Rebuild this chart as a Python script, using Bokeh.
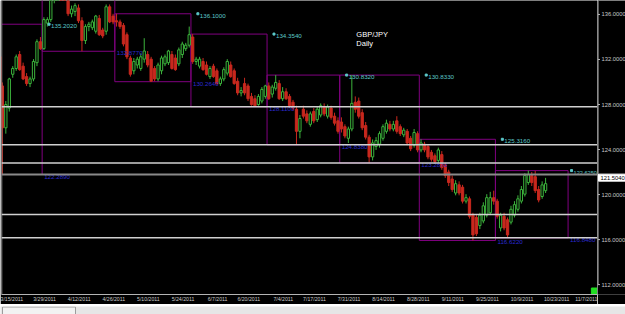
from bokeh.plotting import figure
from bokeh.models import (Range1d, LinearAxis, FixedTicker, ColumnDataSource, Span)
from bokeh.layouts import column, row
from bokeh.embed import file_html
from bokeh.resources import INLINE
from bokeh.core.properties import value

# ---------------- data (GBP/JPY daily) ----------------
bar_start = -10  # index of the first visible bar; bar 0 = 3/29/2011

opens = [132.4, 129.9, 126.3, 128.0, 130.9, 131.4, 132.6, 131.6, 130.7, 130.1,
         130.5, 131.9, 133.7, 133.1, 135.3, 135.6, 137.4, 138.6, 139.2, 138.6,
         137.6, 136.1, 136.3, 136.6, 135.5, 133.8, 135.0, 134.9, 134.6, 135.7,
         134.7, 134.6, 136.7, 135.9, 135.5, 135.4, 135.1, 134.3, 132.3, 131.2,
         131.7, 131.4, 132.2, 132.6, 132.2, 131.4, 130.5, 131.2, 131.8, 131.9,
         132.6, 132.3, 131.8, 132.6, 133.1, 133.4, 134.1, 132.0, 131.6, 132.0,
         131.7, 130.7, 131.6, 131.2, 130.1, 130.5, 131.0, 131.7, 131.2, 130.3,
         129.3, 130.1, 129.9, 129.0, 128.8, 128.3, 128.6, 129.0, 129.9, 129.2,
         129.7, 130.1, 128.8, 129.4, 129.0, 128.5, 127.9, 126.0, 127.9, 127.5,
         126.6, 127.7, 127.0, 127.4, 128.1, 127.3, 128.0, 127.3, 126.9, 126.8,
         126.4, 125.4, 126.2, 128.5, 128.6, 127.6, 126.5, 125.5, 123.8, 124.7,
         124.9, 125.4, 126.0, 126.6, 126.2, 126.9, 126.4, 125.7, 126.0, 125.4,
         124.8, 125.8, 124.4, 124.9, 124.7, 124.2, 123.9, 123.5, 124.0, 123.1,
         122.5, 121.9, 120.7, 121.4, 121.2, 120.0, 120.2, 118.8, 118.6, 117.9,
         118.3, 118.8, 119.0, 120.3, 120.0, 117.7, 118.7, 118.4, 118.2, 118.8,
         119.3, 120.0, 120.6, 121.6, 122.2, 122.1, 121.0, 120.4, 120.9]

highs = [132.7, 130.2, 128.6, 130.6, 131.6, 132.6, 132.9, 131.9, 131.0, 130.7,
         132.2, 133.9, 134.1, 135.8, 135.8, 137.6, 138.9, 139.6, 139.8, 138.9,
         137.9, 136.8, 137.0, 136.9, 135.8, 135.2, 135.4, 135.6, 136.0, 136.0,
         134.9, 136.9, 136.9, 136.1, 136.1, 135.6, 135.3, 134.5, 132.5, 132.3,
         132.4, 132.7, 134.0, 132.9, 132.4, 131.6, 131.9, 132.5, 132.6, 133.0,
         132.9, 132.6, 133.2, 133.7, 133.6, 135.0, 134.354, 132.4, 132.4, 132.3,
         132.0, 131.6, 131.8, 131.4, 130.7, 131.5, 132.2, 132.0, 131.4, 130.6,
         129.8, 130.6, 130.1, 129.3, 129.1, 129.2, 129.8, 130.0, 130.2, 130.0,
         130.832, 130.4, 129.8, 129.7, 129.2, 128.7, 128.2, 127.4, 128.2, 127.8,
         127.7, 128.0, 128.1, 128.4, 128.4, 128.3, 128.2, 127.6, 127.2, 127.2,
         126.6, 126.4, 130.833, 129.0, 128.9, 127.9, 126.8, 125.7, 125.3, 125.5,
         126.0, 126.6, 127.0, 126.9, 126.9, 127.3, 126.6, 126.3, 126.2, 125.6,
         126.2, 126.0, 125.316, 125.1, 124.9, 124.4, 124.1, 124.6, 124.3, 123.3,
         122.7, 122.2, 121.8, 121.7, 121.4, 120.6, 120.4, 119.0, 118.9, 119.0,
         119.9, 120.6, 120.8, 120.9, 120.2, 119.0, 119.0, 118.6, 119.6, 120.0,
         120.5, 121.3, 122.4, 122.625, 122.5, 122.6, 121.3, 121.7, 122.0]

lows = [128.4, 122.289, 125.8, 127.7, 130.6, 131.2, 131.2, 130.4, 129.9, 129.8,
        130.3, 131.6, 133.0, 133.0, 135.0, 135.4, 137.0, 138.1, 138.3, 137.2,
        135.9, 135.8, 135.9, 135.3, 132.877, 133.5, 134.6, 134.7, 134.4, 134.2,
        134.0, 134.3, 135.3, 135.2, 135.0, 134.8, 133.3, 132.2, 130.7, 130.9,
        131.4, 131.2, 131.9, 131.5, 130.264, 130.3, 130.3, 130.9, 131.6, 131.7,
        131.3, 131.2, 131.6, 132.3, 132.9, 133.2, 131.8, 131.7, 131.4, 131.2,
        130.8, 130.5, 130.6, 130.0, 129.9, 130.3, 130.8, 130.6, 130.0, 129.1,
        129.0, 129.1, 128.6, 128.2, 128.11, 128.2, 128.4, 128.8, 128.7, 128.9,
        129.5, 128.7, 128.6, 128.7, 128.0, 127.8, 124.838, 125.4, 127.1, 126.7,
        126.4, 126.7, 126.8, 127.2, 127.3, 127.1, 127.0, 126.5, 125.8, 125.9,
        125.4, 125.0, 126.0, 127.6, 127.1, 126.1, 125.3, 123.287, 123.5, 124.4,
        124.6, 125.2, 125.8, 126.0, 126.0, 125.8, 125.6, 125.5, 124.8, 124.3,
        124.6, 124.2, 124.2, 124.2, 123.6, 123.4, 123.2, 123.3, 122.7, 122.0,
        121.3, 120.8, 120.5, 120.5, 119.8, 119.8, 118.5, 116.622, 117.0, 117.6,
        118.1, 118.6, 118.8, 119.7, 118.5, 117.4, 117.5, 116.848, 118.0, 118.6,
        119.1, 119.8, 120.4, 121.4, 121.3, 120.7, 119.9, 120.2, 120.7]

closes = [128.9, 126.3, 128.3, 130.5, 131.4, 132.4, 131.3, 130.5, 130.1, 130.5,
          132.0, 133.7, 133.1, 135.6, 135.6, 137.4, 138.6, 139.2, 138.6, 137.5,
          136.1, 136.5, 136.8, 135.5, 133.8, 135.0, 135.2, 135.4, 135.9, 134.3,
          134.2, 136.7, 135.4, 135.4, 135.4, 135.0, 133.5, 132.4, 130.9, 132.0,
          132.2, 132.4, 132.9, 131.7, 130.3, 130.5, 131.7, 132.3, 132.4, 132.9,
          131.4, 131.3, 133.0, 133.5, 133.4, 134.3, 132.0, 132.2, 132.2, 131.3,
          130.9, 131.4, 130.7, 130.1, 130.5, 131.3, 132.0, 130.7, 130.1, 129.3,
          129.5, 129.3, 128.8, 128.3, 128.2, 129.0, 129.6, 129.9, 128.8, 129.8,
          130.2, 128.8, 129.4, 128.8, 128.2, 128.0, 126.0, 127.1, 127.3, 126.9,
          127.5, 126.9, 127.9, 128.2, 127.5, 128.1, 127.2, 126.7, 126.0, 126.2,
          125.6, 126.2, 128.4, 127.9, 127.3, 126.3, 125.5, 123.8, 125.0, 125.2,
          125.8, 126.4, 126.7, 126.2, 126.6, 126.0, 125.8, 126.1, 125.0, 124.5,
          125.9, 124.4, 125.0, 124.4, 123.8, 123.6, 123.4, 124.4, 122.9, 122.2,
          121.6, 121.0, 121.5, 120.7, 120.0, 120.3, 118.7, 117.1, 117.2, 118.8,
          119.6, 120.3, 120.3, 120.0, 118.7, 118.8, 117.7, 117.1, 119.3, 119.7,
          120.2, 121.0, 122.2, 122.3, 121.6, 120.9, 120.1, 121.4, 121.504]

# monthly range boxes (Mar .. Oct 2011): first / last bar index, high, low
month_first = [-23, 3, 24, 46, 68, 89, 112, 134]
month_last = [2, 23, 45, 67, 88, 111, 133, 154]
month_high = [135.202, 139.8, 136.100, 134.354, 130.832, 130.833, 125.316, 122.625]
month_low = [122.289, 132.877, 130.264, 128.110, 124.838, 123.287, 116.622, 116.848]
high_text = ["135.2020", "139.8000", "136.1000", "134.3540", "130.8320",
             "130.8330", "125.3160", "122.6250"]
low_text = ["122.2890", "132.8770", "130.2640", "128.1100", "124.8380",
            "123.2870", "116.6220", "116.8480"]

level_lines = [128.110, 124.838, 123.287, 118.850, 116.848]
grey_level = 122.289

price_ticks = [112, 116, 120, 124, 128, 132, 136]
date_pos = [-10, 0, 10, 20, 30, 40, 50, 59, 69, 78, 88, 98, 108, 118, 128, 138, 148, 159]
date_text = ["3/15/2011", "3/29/2011", "4/12/2011", "4/26/2011", "5/10/2011",
             "5/24/2011", "6/7/2011", "6/20/2011", "7/4/2011", "7/17/2011",
             "7/31/2011", "8/14/2011", "8/28/2011", "9/11/2011", "9/25/2011",
             "10/9/2011", "10/23/2011", "11/7/2011"]
last_price = 121.504
title_lines = ["GBP/JPY", "Daily"]

# ---------------- styling ----------------
X0, X1 = -9.25, 163.0
Y0, Y1 = 111.98, 137.24
FRAME_H = 294
GREEN = "#3cb43c"
RED = "#c8281e"
PURPLE = "#800080"
CYAN = "#5cc8c8"
BLUE = "#2a2ad0"
AXIS = "#b4b4b4"
LABEL = "#c8c8c8"
FONT = "Liberation Sans"

p = figure(width=597, height=304, x_range=Range1d(X0, X1), y_range=Range1d(Y0, Y1),
           output_backend="svg", toolbar_location=None,
           x_axis_location=None, y_axis_location=None,
           background_fill_color="black", border_fill_color="black",
           min_border_left=1, min_border_right=0, min_border_top=0, min_border_bottom=10)
p.grid.visible = False
p.outline_line_color = None

# date axis: labels start at their bar (label centre shifted right)
p.extra_x_ranges = {"dates": Range1d(X0 - 3.2, X1 - 3.2)}
xa = LinearAxis(x_range_name="dates", ticker=FixedTicker(ticks=date_pos),
                major_label_overrides={d: t for d, t in zip(date_pos, date_text)},
                major_tick_line_color=None, major_tick_out=0, major_tick_in=0,
                minor_tick_line_color=None, axis_line_color=AXIS,
                major_label_text_font_size="5.2px", major_label_text_font=FONT,
                major_label_text_color=LABEL, major_label_standoff=1)
p.add_layout(xa, "below")

# left border
p.add_layout(Span(location=X0, dimension="height", line_color="#9a9a9a", line_width=1.5))

# monthly boxes
p.quad(left=[f - 0.5 for f in month_first], right=[l + 0.5 for l in month_last],
       top=month_high, bottom=month_low, fill_color=None, line_color=PURPLE, line_width=1)

# horizontal levels
for v in level_lines:
    p.add_layout(Span(location=v, dimension="width", line_color="#d0d0d0", line_width=1.5))
p.add_layout(Span(location=grey_level, dimension="width", line_color="#8a8a8a", line_width=2))

# candles
idx = list(range(bar_start, bar_start + len(opens)))
up = [c >= o for o, c in zip(opens, closes)]
src = ColumnDataSource(dict(
    x=idx, o=opens, h=highs, l=lows, c=closes,
    top=[max(o, c) for o, c in zip(opens, closes)],
    bot=[min(o, c) for o, c in zip(opens, closes)],
    col=[GREEN if u else RED for u in up],
    fill=["black" if u else RED for u in up],
))
p.segment(x0="x", y0="l", x1="x", y1="h", line_color="col", line_width=1, source=src)
p.vbar(x="x", width=0.66, top="top", bottom="bot", fill_color="fill",
       line_color="col", line_width=1, source=src)

# box labels for completed months (only those whose level is on the chart)
done = range(len(month_high) - 1)
vis_hi = [i for i in done if month_high[i] < Y1]
hx = [month_last[i] + 2.5 for i in vis_hi]
hy = [month_high[i] for i in vis_hi]
p.scatter(x=hx, y=hy, marker="square", size=2, color=CYAN)
p.text(x=hx, y=hy, text=[high_text[i] for i in vis_hi], x_offset=2, text_baseline="top",
       text_align="left", text_font=value(FONT), text_font_size="6.2px", text_color=CYAN)
# current month high label squeezed in before the price scale
cur = len(month_high) - 1
p.scatter(x=[month_last[cur] + 1.5], y=[month_high[cur]], marker="square", size=2, color=CYAN)
p.text(x=[month_last[cur] + 1.5], y=[month_high[cur]], text=[high_text[cur]], x_offset=2,
       text_baseline="top", text_align="left", text_font=value(FONT),
       text_font_size="5.6px", text_color=CYAN)
p.text(x=[l + 0.5 for l in month_last], y=month_low, text=low_text, x_offset=2,
       text_baseline="top", text_align="left", text_font=value(FONT),
       text_font_size="6.2px", text_color=BLUE)

# chart caption
p.text(x=[93.3, 93.3], y=[134.72, 133.95], text=title_lines, text_baseline="top",
       text_align="left", text_font=value(FONT), text_font_size="7.5px", text_color="white")

# terminal corner marker
p.scatter(x=[X1 - 0.9], y=[Y0 + 0.3], marker="square", size=6, color="#22dd22")

# ---------------- price scale strip (right) ----------------
unit_px = FRAME_H / (Y1 - Y0)
side = figure(width=28, height=304, x_range=Range1d(0, 28),
              y_range=Range1d(Y0 - 10 / unit_px, Y1),
              output_backend="svg", toolbar_location=None,
              x_axis_location=None, y_axis_location=None,
              background_fill_color="black", border_fill_color="black", min_border=0)
side.grid.visible = False
side.outline_line_color = None
side.segment(x0=[0.5], y0=[Y0], x1=[0.5], y1=[Y1], line_color=AXIS, line_width=1)
side.segment(x0=[0.5] * len(price_ticks), y0=price_ticks, x1=[2.5] * len(price_ticks),
             y1=price_ticks, line_color=AXIS, line_width=1)
side.text(x=[4] * len(price_ticks), y=price_ticks, text=["%.4f" % t for t in price_ticks],
          text_baseline="middle", text_align="left", text_font=value(FONT),
          text_font_size="5.8px", text_color=LABEL)
# current price tag
side.rect(x=[14.5], y=[last_price], width=[27], height=[7], height_units="screen",
          fill_color="white", line_color="white")
side.text(x=[3], y=[last_price], text=["%.4f" % last_price], text_baseline="middle",
          text_align="left", text_font=value(FONT), text_font_size="5.8px",
          text_color="black")

# ---------------- scroll bar strip (bottom) ----------------
sb = figure(width=625, height=10, x_range=Range1d(0, 625), y_range=Range1d(0, 10),
            output_backend="svg", toolbar_location=None,
            x_axis_location=None, y_axis_location=None,
            background_fill_color="#e6e6e6", border_fill_color="#e6e6e6", min_border=0)
sb.grid.visible = False
sb.outline_line_color = None
sb.quad(left=[2], right=[75], bottom=[0.5], top=[9.5], fill_color="#f2f2f2",
        line_color="#9c9c9c", line_width=1)

layout = column(row(p, side, spacing=0), sb, spacing=0)
open("out.html", "w").write(file_html(layout, INLINE))
